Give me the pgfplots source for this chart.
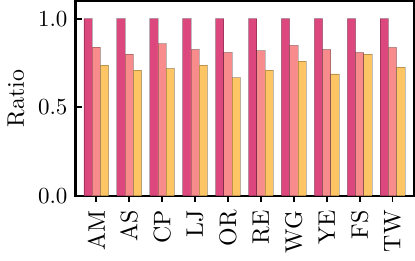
\documentclass[border=0pt]{standalone}
\usepackage{pgfplots}
\pgfplotsset{compat=1.18}
\definecolor{cA}{HTML}{DC487E}
\definecolor{cB}{HTML}{F88C8C}
\definecolor{cC}{HTML}{FDC564}
\begin{document}
\begin{tikzpicture}
\begin{axis}[
  scale only axis,
  width=147.2pt, height=84.7pt,
  xmin=-0.63, xmax=9.65,
  ymin=0, ymax=1.1,
  ytick={0,0.5,1.0},
  yticklabel style={/pgf/number format/fixed, /pgf/number format/fixed zerofill, /pgf/number format/precision=1},
  xtick={0,1,2,3,4,5,6,7,8,9},
  xticklabels={AM,AS,CP,LJ,OR,RE,WG,YE,FS,TW},
  xticklabel style={rotate=90, anchor=east},
  ticklabel style={font=\fontsize{10.4}{12}\selectfont},
  label style={font=\fontsize{10.4}{12}\selectfont},
  tick align=inside,
  xtick pos=bottom, ytick pos=left,
  major tick length=2.8pt,
  tick style={black, line width=0.8pt},
  axis line style={line width=0.9pt},
  ylabel={Ratio},
  ylabel style={yshift=-1pt},
  ybar=0pt,
  bar width=0.25,
]
\addplot[fill=cA, draw=black, draw opacity=0.25, line width=0.3pt, bar shift=-0.25] coordinates {(0,1.0) (1,1.0) (2,1.0) (3,1.0) (4,1.0) (5,1.0) (6,1.0) (7,1.0) (8,1.0) (9,1.0)};
\addplot[fill=cB, draw=black, draw opacity=0.25, line width=0.3pt, bar shift=0] coordinates {(0,0.839) (1,0.80) (2,0.86) (3,0.827) (4,0.81) (5,0.82) (6,0.849) (7,0.827) (8,0.81) (9,0.838)};
\addplot[fill=cC, draw=black, draw opacity=0.25, line width=0.3pt, bar shift=0.25] coordinates {(0,0.738) (1,0.71) (2,0.72) (3,0.738) (4,0.668) (5,0.71) (6,0.76) (7,0.688) (8,0.80) (9,0.727)};
\end{axis}
\end{tikzpicture}
\end{document}
